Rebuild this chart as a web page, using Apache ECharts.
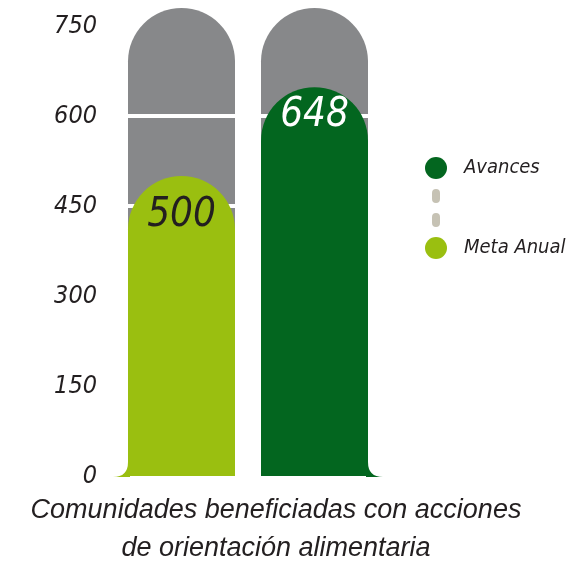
<!DOCTYPE html>
<html>
<head>
<meta charset="utf-8">
<script src="https://cdn.jsdelivr.net/npm/echarts@6/dist/echarts.min.js"></script>
<style>
  html, body { margin: 0; padding: 0; background: #fff; }
  #c1 { width: 567px; height: 561px; }
</style>
</head>
<body>
<div id="c1"></div>
<script>
// data
var categorias = ['Meta Anual', 'Avances'];
var metaAnual = [500, '-'];
var avances = ['-', 648];
var fondo = [780, 780];          // grey capsule behind each bar
var lineasBlancas = [450, 600];  // white rules across the grey
var yTicks = [0, 150, 300, 450, 600, 750];
var pies = [-1, 1];              // side of the little foot at the base of each bar

var fuente = "'DejaVu Sans Condensed', 'Liberation Sans Narrow', sans-serif";
var texto = '#231f20';

var chart = echarts.init(document.getElementById('c1'), null, {renderer: 'canvas'});

chart.setOption({
    backgroundColor: '#fff',
    animation: false,
    title: {
        text: 'Comunidades beneficiadas con acciones\nde orientación alimentaria',
        left: 271,
        textAlign: 'center',
        top: 486,
        textStyle: {
            fontFamily: 'Liberation Sans',
            fontStyle: 'italic',
            fontWeight: 'normal',
            fontSize: 27,
            lineHeight: 38,
            color: texto
        }
    },
    legend: {
        data: ['Avances', 'Meta Anual'],
        orient: 'vertical',
        left: 420,
        top: 152,
        itemWidth: 22,
        itemHeight: 22,
        itemGap: 58,
        icon: 'circle',
        selectedMode: false,
        textStyle: {
            fontFamily: fuente,
            fontStyle: 'italic',
            fontSize: 20,
            color: texto,
            padding: [0, 0, 0, 12]
        }
    },
    graphic: [{
        type: 'line',
        z: 0,
        shape: {x1: 436, y1: 193, x2: 436, y2: 240},
        style: {stroke: '#c6c2b4', lineWidth: 8, lineCap: 'round', lineDash: [6, 18]}
    }],
    grid: {left: 115, right: 186, top: 8, bottom: 85},
    xAxis: {
        type: 'category',
        data: categorias,
        axisLine: {show: false},
        axisTick: {show: false},
        axisLabel: {show: false}
    },
    yAxis: {
        type: 'value',
        min: 0,
        max: 780,
        interval: 150,
        axisLine: {show: false},
        axisTick: {show: false},
        splitLine: {show: false},
        axisLabel: {
            showMaxLabel: false,
            margin: 18,
            fontFamily: fuente,
            fontStyle: 'italic',
            fontSize: 25,
            color: texto,
            formatter: function (v) { return yTicks.indexOf(v) >= 0 ? String(v) : ''; }
        }
    },
    series: [{
        name: 'fondo',
        type: 'bar',
        data: fondo,
        barWidth: 107,
        barGap: '-100%',
        z: 1,
        silent: true,
        itemStyle: {color: '#87888a', borderRadius: [54, 54, 0, 0]},
        markLine: {
            z: 2,
            silent: true,
            symbol: 'none',
            label: {show: false},
            lineStyle: {color: '#ffffff', width: 4, type: 'solid'},
            data: lineasBlancas.map(function (v) { return {yAxis: v}; })
        }
    }, {
        name: 'Meta Anual',
        type: 'bar',
        data: metaAnual,
        barWidth: 107,
        barGap: '-100%',
        z: 6,
        itemStyle: {color: '#9abf10', borderRadius: [54, 54, 0, 0]},
        label: {
            show: true,
            position: 'insideTop',
            distance: 20,
            fontFamily: fuente,
            fontStyle: 'italic',
            fontSize: 40,
            color: texto
        }
    }, {
        name: 'Avances',
        type: 'bar',
        data: avances,
        barWidth: 107,
        barGap: '-100%',
        z: 6,
        itemStyle: {color: '#03661f', borderRadius: [54, 54, 0, 0]},
        label: {
            show: true,
            position: 'insideTop',
            distance: 8,
            fontFamily: fuente,
            fontStyle: 'italic',
            fontSize: 40,
            color: '#ffffff'
        }
    }, {
        name: 'pies',
        type: 'custom',
        z: 6,
        silent: true,
        data: pies.map(function (d, i) { return [i, 0, d]; }),
        renderItem: function (params, api) {
            var base = api.coord([api.value(0), 0]);
            var d = api.value(2);
            var x0 = base[0] + d * 107 / 2;
            var y0 = base[1] + 1;
            var r = 15;
            var path = 'M' + x0 + ',' + (y0 - r) +
                ' Q' + x0 + ',' + y0 + ' ' + (x0 + d * r) + ',' + y0 +
                ' L' + (x0 - d * 2) + ',' + y0 + ' L' + (x0 - d * 2) + ',' + (y0 - r) + ' Z';
            return {
                type: 'path',
                shape: {pathData: path},
                style: {fill: d < 0 ? '#9abf10' : '#03661f'}
            };
        }
    }]
});
</script>
</body>
</html>
